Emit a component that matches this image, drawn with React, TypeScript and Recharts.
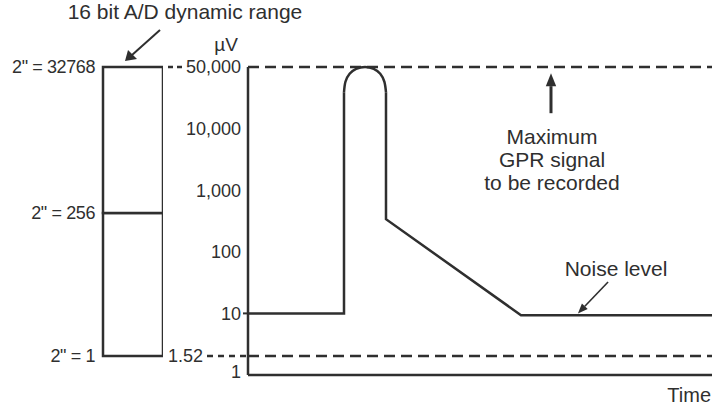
import { Bar, BarChart, ComposedChart, Line, ReferenceLine, XAxis, YAxis } from "recharts";

const W = 712;
const H = 406;
const FONT = "'Liberation Sans', Arial, Helvetica, sans-serif";
const INK = "#2f2f2f";

// y axis: one level per decade, as drawn
const levelTicks = [0, 0.31, 1, 2, 3, 4, 5];
const levelLabels = ["1", "1.52", "10", "100", "1,000", "10,000", "50,000"];
const maxLevel = 5; // 50,000 µV
const floorLevel = 0.31; // 1.52 µV

// 16 bit A/D box
const adLevels = [0.31, 2.63, 5];
const adLabels = ['2" = 1', '2" = 256', '2" = 32768'];

// signal trace (time 0..100)
const pulseTime = [0, 20.69, 20.69, 25.2, 29.74, 29.74, 58.84, 100];
const pulseLevel = [1, 1, 4.59, null, 4.59, 2.53, 0.97, 0.97];
const capTime = [20.69, 21.0, 21.9, 23.3, 25.22, 27.1, 28.5, 29.4, 29.74];
const capLevel = [4.59, 4.76, 4.89, 4.97, 5.0, 4.97, 4.89, 4.76, 4.59];

// annotation arrows: [t from, level from, t to, level to]
const gprArrow = [65.3, 4.25, 65.3, 4.9];
const noiseArrow = [77.6, 1.51, 71.1, 1.0];

const pulseData = pulseTime.map((t, i) => ({ t, v: pulseLevel[i] }));
const capData = capTime.map((t, i) => ({ t, v: capLevel[i] }));
const adRows = [
  { name: "ad", base: adLevels[0], low: adLevels[1] - adLevels[0], high: adLevels[2] - adLevels[1] },
];

const same = (a: number, b: number) => Math.abs(a - b) < 1e-6;

function LevelTick(props: any) {
  const { x, y, payload } = props;
  const i = levelTicks.findIndex((v) => same(v, payload.value));
  const label = levelLabels[i];
  const axisX = x + 7;
  const txt = { fill: INK, fontSize: 18, fontFamily: FONT };
  if (same(payload.value, floorLevel)) {
    return (
      <g>
        <text x={axisX - 45} y={y} dy="0.35em" textAnchor="end" {...txt}>{label}</text>
        <line x1={axisX - 41} x2={axisX} y1={y} y2={y} stroke={INK} strokeWidth={2.5} strokeDasharray="6 5" />
      </g>
    );
  }
  if (same(payload.value, maxLevel)) {
    return (
      <g>
        <text x={x} y={y} dy="0.35em" textAnchor="end" {...txt}>{label}</text>
        <line x1={axisX - 80} x2={axisX - 66} y1={y} y2={y} stroke={INK} strokeWidth={2.5} strokeDasharray="5 4" />
      </g>
    );
  }
  return (
    <g>
      <text x={x} y={same(payload.value, 0) ? y - 3 : y} dy="0.35em" textAnchor="end" {...txt}>{label}</text>
      {same(payload.value, 1) && <line x1={axisX - 5} x2={axisX} y1={y} y2={y} stroke={INK} strokeWidth={2} />}
    </g>
  );
}

function AdTick(props: any) {
  const { x, y, payload } = props;
  const i = adLevels.findIndex((v) => same(v, payload.value));
  return (
    <text x={x} y={y} dy="0.35em" textAnchor="end" fill={INK} fontSize={18} fontFamily={FONT} letterSpacing={-0.4}>
      {adLabels[i]}
    </text>
  );
}

function arrowShape(head: number, width: number) {
  return (p: any) => {
    const { x1, y1, x2, y2 } = p;
    const ang = Math.atan2(y2 - y1, x2 - x1);
    const bx = x2 - head * Math.cos(ang);
    const by = y2 - head * Math.sin(ang);
    const nx = -Math.sin(ang) * head * 0.4;
    const ny = Math.cos(ang) * head * 0.4;
    return (
      <g>
        <line x1={x1} y1={y1} x2={bx} y2={by} stroke={INK} strokeWidth={width} />
        <polygon points={`${x2},${y2} ${bx + nx},${by + ny} ${bx - nx},${by - ny}`} fill={INK} />
      </g>
    );
  };
}

const note = { fill: INK, fontSize: 21, fontFamily: FONT, textAnchor: "middle" as const };

export default function App() {
  return (
    <div style={{ position: "absolute", left: 0, top: 0, width: W, height: H, background: "#fff" }}>
      <div style={{ position: "absolute", left: 0, top: 0 }}>
        <BarChart width={163} height={H} data={adRows} margin={{ top: 67, right: 0, bottom: 31, left: 0 }} barCategoryGap={0}>
          <XAxis dataKey="name" hide />
          <YAxis
            type="number"
            domain={[0, 5]}
            ticks={adLevels}
            interval={0}
            width={103}
            axisLine={false}
            tickLine={false}
            tickSize={0}
            tickMargin={8}
            tick={<AdTick />}
          />
          <Bar dataKey="base" stackId="ad" fill="none" stroke="none" isAnimationActive={false} />
          <Bar dataKey="low" stackId="ad" fill="#fff" stroke={INK} strokeWidth={2.5} isAnimationActive={false} />
          <Bar dataKey="high" stackId="ad" fill="#fff" stroke={INK} strokeWidth={2.5} isAnimationActive={false} />
        </BarChart>
      </div>
      <div style={{ position: "absolute", left: 0, top: 0 }}>
        <ComposedChart width={W} height={H} margin={{ top: 67, right: 0, bottom: 0, left: 0 }}>
          <XAxis
            type="number"
            dataKey="t"
            domain={[0, 100]}
            height={31}
            tick={false}
            tickLine={false}
            axisLine={{ stroke: INK, strokeWidth: 2.5 }}
            label={(p: any) => (
              <text x={p.viewBox.x + p.viewBox.width - 1} y={p.viewBox.y + 20} dy="0.35em" textAnchor="end" fill={INK} fontSize={20} fontFamily={FONT}>
                Time
              </text>
            )}
          />
          <YAxis
            type="number"
            domain={[0, 5]}
            ticks={levelTicks}
            interval={0}
            width={248}
            tickSize={0}
            tickMargin={7}
            tickLine={false}
            axisLine={{ stroke: INK, strokeWidth: 2.5 }}
            tick={<LevelTick />}
            label={(p: any) => (
              <text x={p.viewBox.x + p.viewBox.width - 22} y={p.viewBox.y - 23} dy="0.35em" textAnchor="middle" fill={INK} fontSize={19} fontFamily={FONT}>
                µV
              </text>
            )}
          />
          <ReferenceLine y={maxLevel} stroke={INK} strokeWidth={2.5} strokeDasharray="11 6" />
          <ReferenceLine y={floorLevel} stroke={INK} strokeWidth={2.5} strokeDasharray="11 6" />
          <Line data={pulseData} dataKey="v" type="linear" stroke={INK} strokeWidth={2.5} dot={false} activeDot={false} isAnimationActive={false} />
          <Line data={capData} dataKey="v" type="natural" stroke={INK} strokeWidth={2.5} dot={false} activeDot={false} isAnimationActive={false} />
          <ReferenceLine
            segment={[{ x: gprArrow[0], y: gprArrow[1] }, { x: gprArrow[2], y: gprArrow[3] }]}
            shape={arrowShape(13, 3)}
          />
          <ReferenceLine
            segment={[{ x: noiseArrow[0], y: noiseArrow[1] }, { x: noiseArrow[2], y: noiseArrow[3] }]}
            shape={arrowShape(10, 1.6)}
          />
        </ComposedChart>
      </div>
      <svg width={W} height={H} style={{ position: "absolute", left: 0, top: 0, pointerEvents: "none" }}>
        <text x={185} y={12} dy="0.35em" {...note}>16 bit A/D dynamic range</text>
        <line x1={160} y1={30} x2={132} y2={55} stroke={INK} strokeWidth={2} />
        <polygon points="125,61 128,50 137,59" fill={INK} />
        <text x={552} y={137} dy="0.35em" {...note}>Maximum</text>
        <text x={552} y={160} dy="0.35em" {...note}>GPR signal</text>
        <text x={552} y={183} dy="0.35em" {...note}>to be recorded</text>
        <text x={616} y={269} dy="0.35em" {...note}>Noise level</text>
      </svg>
    </div>
  );
}
